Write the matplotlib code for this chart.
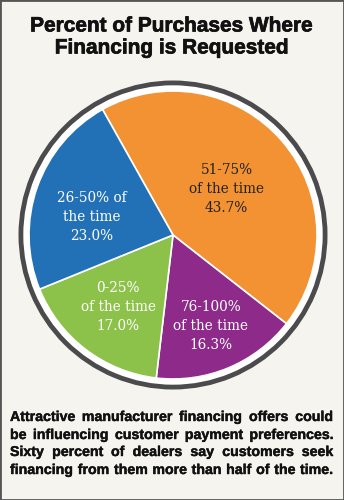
import numpy as np
import matplotlib
matplotlib.use("Agg")
import matplotlib.pyplot as plt
import matplotlib.patheffects as pe
from matplotlib.patches import Circle, Wedge, Rectangle

# Data
ranges = ['51-75%\nof the time', '76-100%\nof the time', '0-25%\nof the time', '26-50% of\nthe time']
shares = [43.7, 16.3, 17.0, 23.0]
colors = ['#f39232', '#8d2a8a', '#8cc14a', '#2271b6']
text_colors = ['#222222', 'white', 'white', 'white']

title = "Percent of Purchases Where\nFinancing is Requested"
caption = ["Attractive manufacturer financing offers could",
           "be influencing customer payment preferences.",
           "Sixty percent of dealers say customers seek",
           "financing from them more than half of the time."]

bg = '#f6f4ef'
W, H = 344, 500

fig = plt.figure(figsize=(W / 100, H / 100), dpi=100, facecolor=bg)
ax = fig.add_axes([0, 0, 1, 1])

cx, cy = 173, H - 235
R = 144

# outer ring + white gap
ax.add_patch(Circle((cx, cy), 150, facecolor='white', edgecolor='none', zorder=1))
ax.add_patch(Wedge((cx, cy), 154.5, 0, 360, width=4.8, facecolor='#4b4b4d', edgecolor='none', zorder=1))

wedges, _ = ax.pie(shares, colors=colors, startangle=119.3, counterclock=False,
                   center=(cx, cy), radius=R, frame=True,
                   wedgeprops=dict(edgecolor='white', linewidth=1.2, zorder=2))
ax.set_xlim(0, W)
ax.set_ylim(0, H)
ax.set_aspect('equal')
ax.axis('off')

# labels inside wedges
label_r = [0.49, 0.685, 0.63, 0.58]
label_da = [0, 0, 0, 7]
for w, txt, v, tc, lr, da in zip(wedges, ranges, shares, text_colors, label_r, label_da):
    ang = np.deg2rad((w.theta1 + w.theta2) / 2 + da)
    x = cx + lr * R * np.cos(ang)
    y = cy + lr * R * np.sin(ang)
    ax.text(x, y, f"{txt}\n{v:.1f}%", ha='center', va='center', color=tc,
            fontsize=9.8, family='DejaVu Serif', linespacing=1.45, zorder=3)

# title
thick = [pe.withStroke(linewidth=0.5, foreground='#111111')]
fig.text(0.5, 1 - 37 / H, title, ha='center', va='center', fontsize=15,
         fontweight='bold', family='Liberation Sans', color='#111111',
         linespacing=1.2, path_effects=thick)

# justified caption
renderer = fig.canvas.get_renderer()
left, right = 10, 333
line_y = [417, 435, 452, 470]
thin = [pe.withStroke(linewidth=0.3, foreground='#111111')]
for line, yy in zip(caption, line_y):
    words = line.split()
    arts = [ax.text(0, H - yy, wd, ha='left', va='center', fontsize=10.2,
                    fontweight='bold', family='Liberation Sans', color='#111111',
                    path_effects=thin)
            for wd in words]
    widths = [a.get_window_extent(renderer).width for a in arts]
    gap = (right - left - sum(widths)) / (len(words) - 1)
    xpos = left
    for a, wdt in zip(arts, widths):
        a.set_x(xpos)
        xpos += wdt + gap

# border
fig.patches.append(Rectangle((0, 0), 1, 1, transform=fig.transFigure, fill=False,
                             edgecolor='#555555', linewidth=2))

fig.savefig('out.png', dpi=100, facecolor=bg)
